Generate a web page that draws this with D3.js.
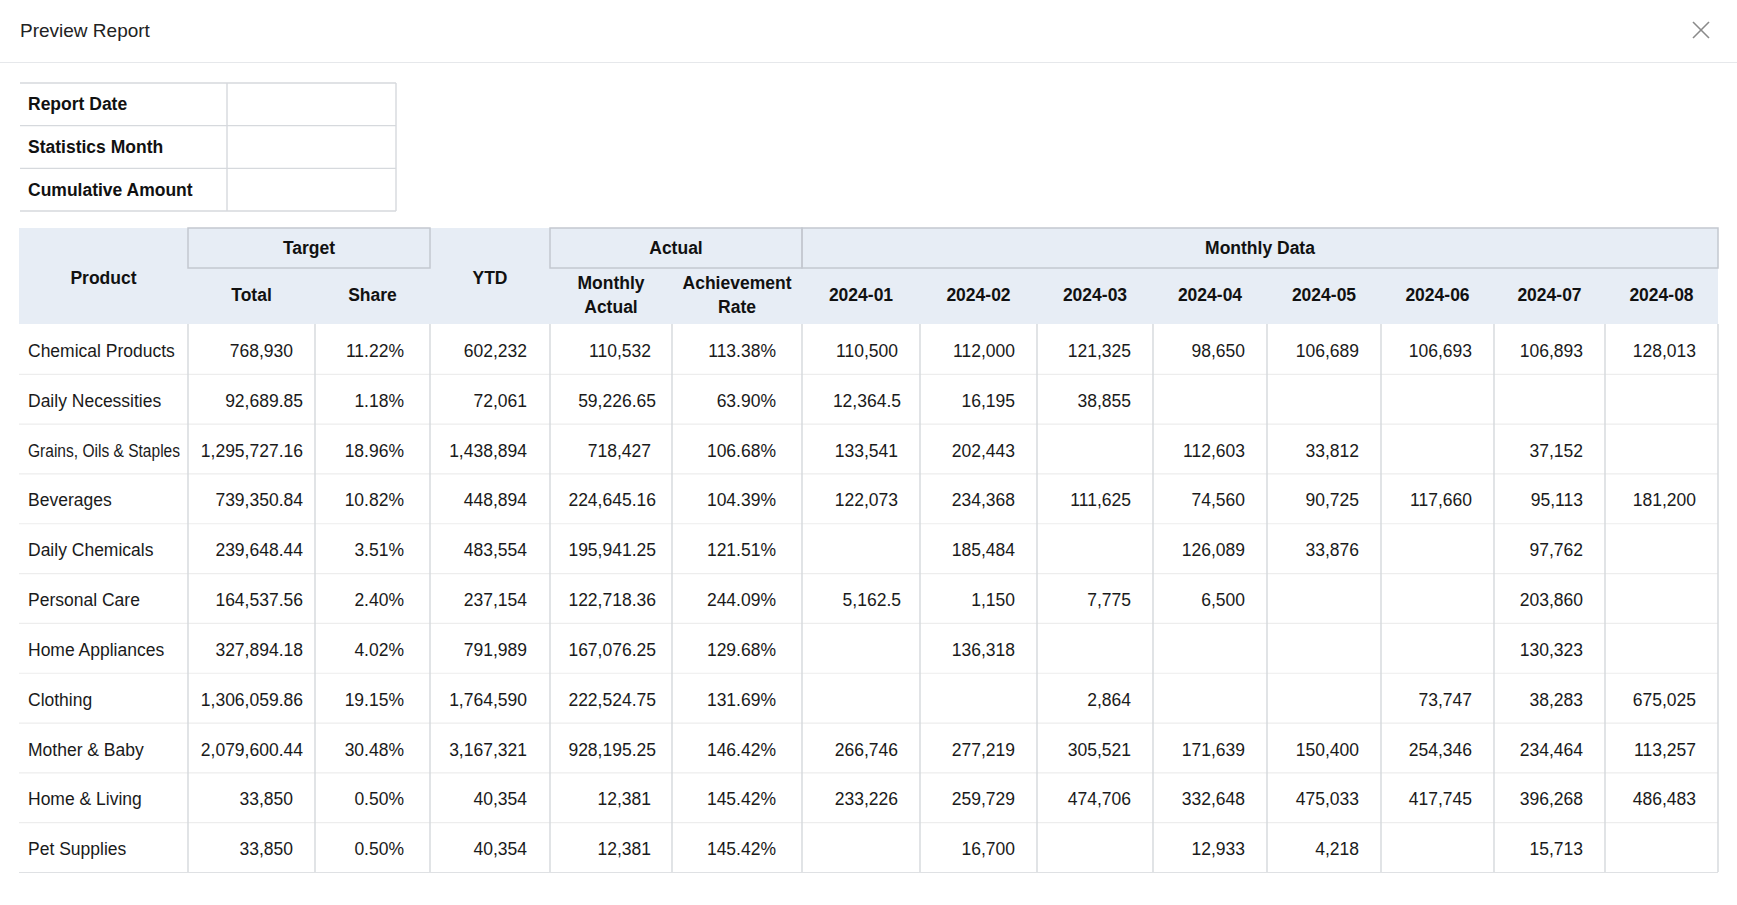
<!DOCTYPE html>
<html lang="en">
<head>
<meta charset="UTF-8">
<title>Preview Report</title>
<script src="https://cdn.jsdelivr.net/npm/d3@7"></script>
<style>
  body { margin: 0; background: #fff; }
  svg { display: block; font-family: "Liberation Sans", Arial, Helvetica, sans-serif; }
</style>
</head>
<body>
<svg width="1737" height="905"></svg>
<script>
// ---- data ----
var products = ["Chemical Products", "Daily Necessities", "Grains, Oils & Staples", "Beverages",
  "Daily Chemicals", "Personal Care", "Home Appliances", "Clothing", "Mother & Baby",
  "Home & Living", "Pet Supplies"];
var targetTotal = [768930, 92689.85, 1295727.16, 739350.84, 239648.44, 164537.56,
  327894.18, 1306059.86, 2079600.44, 33850, 33850];
var targetShare = [0.1122, 0.0118, 0.1896, 0.1082, 0.0351, 0.0240, 0.0402, 0.1915, 0.3048, 0.0050, 0.0050];
var ytd = [602232, 72061, 1438894, 448894, 483554, 237154, 791989, 1764590, 3167321, 40354, 40354];
var monthlyActual = [110532, 59226.65, 718427, 224645.16, 195941.25, 122718.36,
  167076.25, 222524.75, 928195.25, 12381, 12381];
var achievementRate = [1.1338, 0.6390, 1.0668, 1.0439, 1.2151, 2.4409, 1.2968, 1.3169, 1.4642, 1.4542, 1.4542];
var months = ["2024-01", "2024-02", "2024-03", "2024-04", "2024-05", "2024-06", "2024-07", "2024-08"];
// one row per product, one value per month, null = empty cell
var monthlyData = [
  [110500, 112000, 121325, 98650, 106689, 106693, 106893, 128013],
  [12364.5, 16195, 38855, null, null, null, null, null],
  [133541, 202443, null, 112603, 33812, null, 37152, null],
  [122073, 234368, 111625, 74560, 90725, 117660, 95113, 181200],
  [null, 185484, null, 126089, 33876, null, 97762, null],
  [5162.5, 1150, 7775, 6500, null, null, 203860, null],
  [null, 136318, null, null, null, null, 130323, null],
  [null, null, 2864, null, null, 73747, 38283, 675025],
  [266746, 277219, 305521, 171639, 150400, 254346, 234464, 113257],
  [233226, 259729, 474706, 332648, 475033, 417745, 396268, 486483],
  [null, 16700, null, 12933, 4218, null, 15713, null]
];
var infoLabels = ["Report Date", "Statistics Month", "Cumulative Amount"];

// ---- layout ----
var svg = d3.select("svg");
var fontSize = 17.5;
var textColor = "#1a1a1a";
var headBg = "#e7edf5";
var boxLine = "#c3c8cf";
var colLine = "#d5d8dc";
var rowLine = "#ededed";

var num = d3.format(",");
var pct = d3.format(".2%");

// column widths of main table
var tableX = 19;
var colWidths = [169, 127, 115, 120, 122, 130, 118, 117, 116, 114, 114, 113, 111, 113];
var colEdges = [tableX].concat(Array.from(d3.cumsum(colWidths), function (w) { return tableX + w; }));
var tableRight = colEdges[colEdges.length - 1];

var headTop = 228, headMid = 268, headBottom = 324, tableBottom = 872;

var y = d3.scaleBand()
  .domain(d3.range(products.length))
  .range([headBottom, tableBottom]);

// columns: values, formatter, right padding, extra shift for decimals
var columns = [
  { vals: products, start: true },
  { vals: targetTotal, fmt: num, pad: 22, dec: 10 },
  { vals: targetShare, fmt: pct, pad: 26, dec: 0 },
  { vals: ytd, fmt: num, pad: 23, dec: 0 },
  { vals: monthlyActual, fmt: num, pad: 21, dec: 5 },
  { vals: achievementRate, fmt: pct, pad: 26, dec: 0 }
].concat(months.map(function (m, i) {
  return { vals: monthlyData.map(function (r) { return r[i]; }), fmt: num, pad: 22, dec: 3 };
}));

// ---- top bar ----
svg.append("text")
  .attr("x", 20).attr("y", 30).attr("dy", "0.35em")
  .attr("font-size", 19).attr("fill", "#222")
  .text("Preview Report");

var close = svg.append("g").attr("stroke", "#8a8a8a").attr("stroke-width", 1.6);
close.append("line").attr("x1", 1693).attr("y1", 22).attr("x2", 1709).attr("y2", 38);
close.append("line").attr("x1", 1709).attr("y1", 22).attr("x2", 1693).attr("y2", 38);

svg.append("line")
  .attr("x1", 0).attr("x2", 1737).attr("y1", 62.5).attr("y2", 62.5)
  .attr("stroke", "#e6e8eb").attr("stroke-width", 1.2);

// ---- info table ----
var infoEdges = [20, 227, 396];
var infoY = d3.scaleBand().domain(d3.range(infoLabels.length)).range([83, 211]);
var info = svg.append("g").attr("stroke", "#d6d9dd").attr("stroke-width", 1.4);
info.selectAll("line.h")
  .data(d3.range(infoLabels.length + 1))
  .join("line")
  .attr("class", "h")
  .attr("x1", infoEdges[0]).attr("x2", infoEdges[2])
  .attr("y1", function (i) { return i < infoLabels.length ? infoY(i) : 211; })
  .attr("y2", function (i) { return i < infoLabels.length ? infoY(i) : 211; });
info.selectAll("line.v")
  .data(infoEdges.slice(1))
  .join("line")
  .attr("class", "v")
  .attr("x1", function (x) { return x; }).attr("x2", function (x) { return x; })
  .attr("y1", 83).attr("y2", 211);
svg.append("g").selectAll("text")
  .data(infoLabels)
  .join("text")
  .attr("x", infoEdges[0] + 8)
  .attr("y", function (d, i) { return infoY(i) + infoY.bandwidth() / 2; })
  .attr("dy", "0.35em")
  .attr("font-size", fontSize).attr("font-weight", "bold").attr("fill", "#111")
  .text(function (d) { return d; });

// ---- header ----
var head = svg.append("g");
head.append("rect")
  .attr("x", tableX).attr("y", headTop)
  .attr("width", tableRight - tableX).attr("height", headBottom - headTop)
  .attr("fill", headBg);

var groups = [
  { label: "Target", from: 1, to: 2 },
  { label: "Actual", from: 4, to: 5 },
  { label: "Monthly Data", from: 6, to: 13 }
];
head.selectAll("rect.group")
  .data(groups)
  .join("rect")
  .attr("class", "group")
  .attr("x", function (d) { return colEdges[d.from]; })
  .attr("y", headTop)
  .attr("width", function (d) { return colEdges[d.to + 1] - colEdges[d.from]; })
  .attr("height", headMid - headTop)
  .attr("fill", "none")
  .attr("stroke", boxLine)
  .attr("stroke-width", 1.5);

var headCells = groups.map(function (g) {
  return { lines: [g.label], x: (colEdges[g.from] + colEdges[g.to + 1]) / 2, y: (headTop + headMid) / 2 };
});
[[0, "Product"], [3, "YTD"]].forEach(function (p) {
  headCells.push({ lines: [p[1]], x: (colEdges[p[0]] + colEdges[p[0] + 1]) / 2, y: (headTop + headBottom) / 2 + 2 });
});
var subLabels = [[1, ["Total"]], [2, ["Share"]], [4, ["Monthly", "Actual"]], [5, ["Achievement", "Rate"]]]
  .concat(months.map(function (m, i) { return [6 + i, [m]]; }));
subLabels.forEach(function (s) {
  headCells.push({ lines: s[1], x: (colEdges[s[0]] + colEdges[s[0] + 1]) / 2, y: (headMid + headBottom) / 2 - 1 });
});

head.selectAll("text")
  .data(headCells)
  .join("text")
  .attr("text-anchor", "middle")
  .attr("font-size", fontSize).attr("font-weight", "bold").attr("fill", "#111")
  .each(function (d) {
    var t = d3.select(this);
    var lh = 24.5;
    d.lines.forEach(function (line, i) {
      t.append("tspan")
        .attr("x", d.x)
        .attr("y", d.y + (i - (d.lines.length - 1) / 2) * lh)
        .attr("dy", "0.35em")
        .text(line);
    });
  });

// ---- body grid ----
var grid = svg.append("g");
grid.selectAll("line.row")
  .data(d3.range(1, products.length + 1))
  .join("line")
  .attr("class", "row")
  .attr("x1", tableX).attr("x2", tableRight)
  .attr("y1", function (i) { return (i < products.length ? y(i) : tableBottom) + 0.5; })
  .attr("y2", function (i) { return (i < products.length ? y(i) : tableBottom) + 0.5; })
  .attr("stroke", function (i) { return i < products.length ? rowLine : "#dfe1e4"; })
  .attr("stroke-width", 1.2);
grid.selectAll("line.col")
  .data(colEdges.slice(1))
  .join("line")
  .attr("class", "col")
  .attr("x1", function (x) { return x; }).attr("x2", function (x) { return x; })
  .attr("y1", headBottom).attr("y2", tableBottom)
  .attr("stroke", colLine).attr("stroke-width", 1.4);

// ---- body cells ----
var cells = [];
products.forEach(function (p, r) {
  columns.forEach(function (c, ci) {
    var v = c.vals[r];
    if (v == null) return;
    cells.push({ r: r, c: ci, col: c, text: c.start ? v : c.fmt(v) });
  });
});

svg.append("g")
  .selectAll("text")
  .data(cells)
  .join("text")
  .attr("font-size", fontSize)
  .attr("fill", textColor)
  .attr("y", function (d) { return y(d.r) + y.bandwidth() / 2 + 2; })
  .attr("dy", "0.35em")
  .attr("text-anchor", function (d) { return d.col.start ? "start" : "end"; })
  .attr("x", function (d) {
    if (d.col.start) return colEdges[d.c] + 9;
    var shift = d.text.indexOf(".") >= 0 && d.text.indexOf("%") < 0 ? d.col.dec : 0;
    return colEdges[d.c + 1] - d.col.pad + shift;
  })
  .text(function (d) { return d.text; })
  .each(function (d) {
    // squeeze text that would overflow its cell
    var w = this.getComputedTextLength();
    var avail;
    if (d.col.start) {
      avail = colWidths[d.c] - 17;
    } else {
      var end = +this.getAttribute("x");
      avail = end - colEdges[d.c] - 10;
    }
    if (w > avail) {
      d3.select(this).attr("textLength", avail).attr("lengthAdjust", "spacingAndGlyphs");
    }
  });
</script>
</body>
</html>
